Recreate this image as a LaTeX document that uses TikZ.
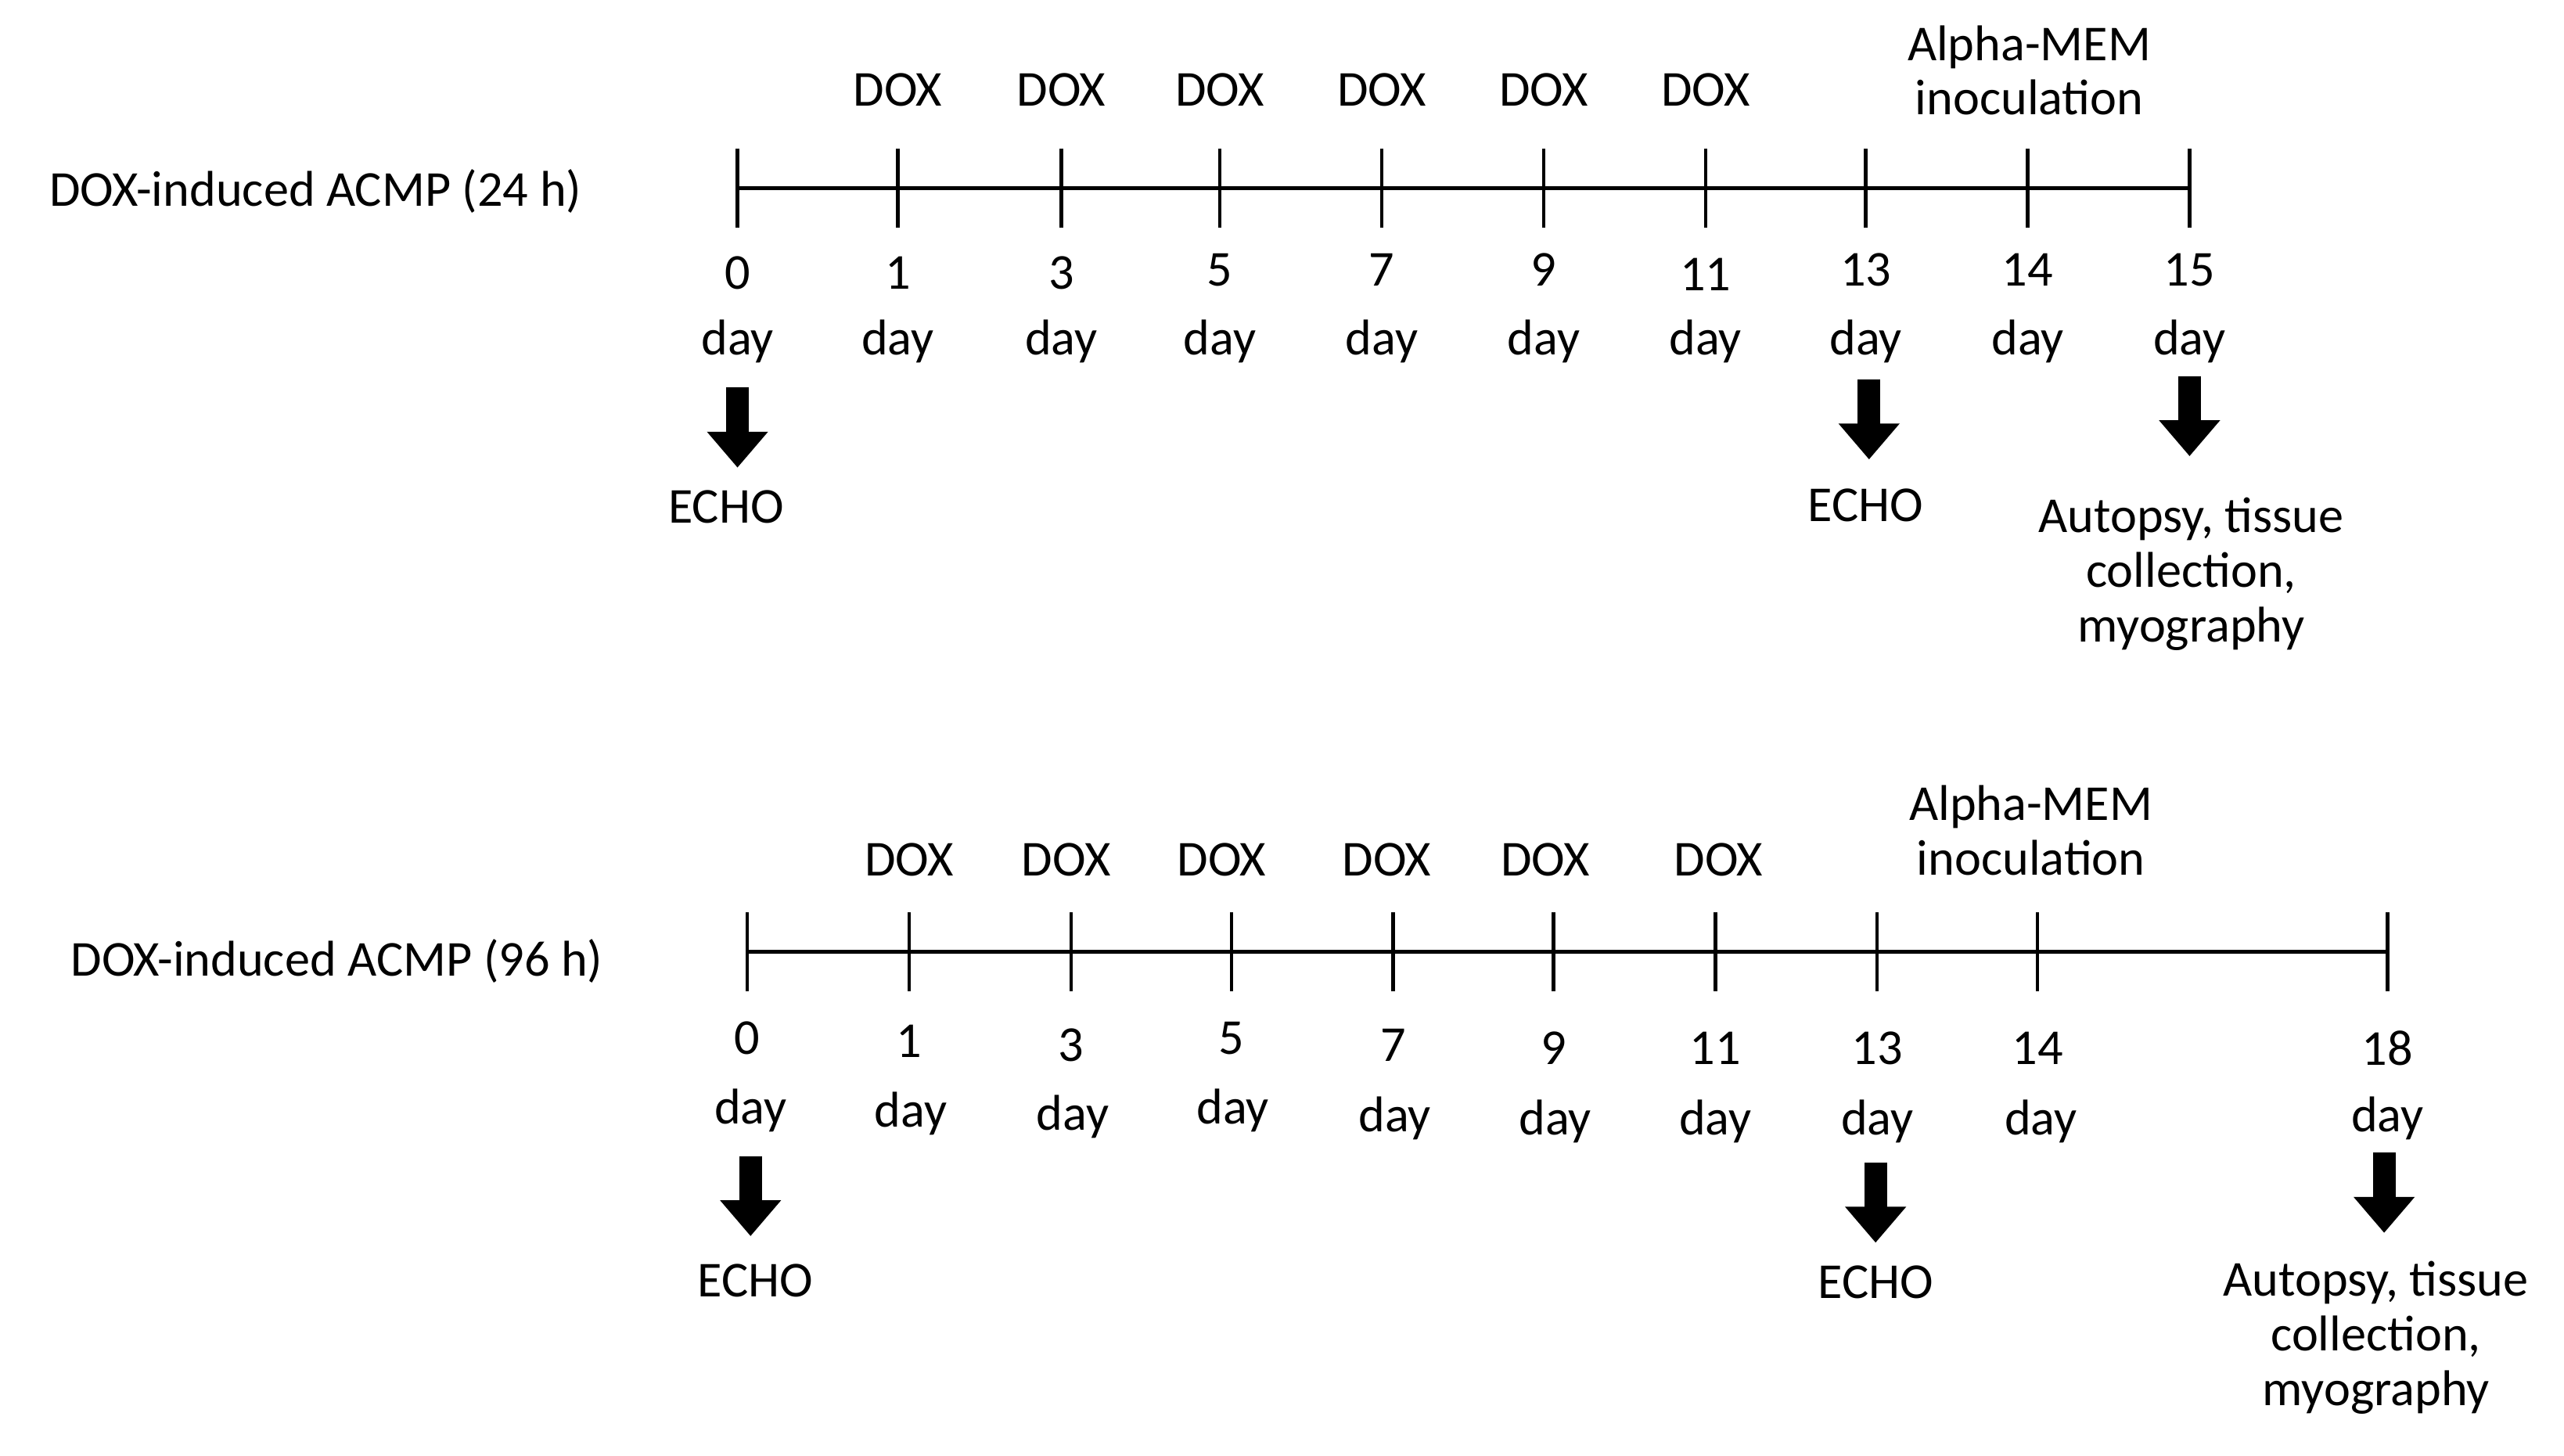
\documentclass[tikz,border=0pt]{standalone}
\usepackage{fontspec}
\setmainfont{Carlito}
\usetikzlibrary{arrows.meta}
\begin{document}
\begin{tikzpicture}[x=0.02cm,y=-0.02cm,
  lbl/.style={font=\fontsize{17.5}{21}\selectfont,inner sep=0pt,align=center},
  tl/.style={line width=1.2pt},
  big/.style={line width=0.28cm,-{Triangle[width=0.72cm,length=0.44cm]}}]
\useasboundingbox (0,0) rectangle (1568,890);
% timeline 1
\node[lbl] (L1) at (193,117) {DOX-induced ACMP (24 h)};
\coordinate (a0) at (451,115); \coordinate (aE) at (1339,115);
\draw[tl] (a0) -- (aE);
\foreach \x/\d/\n [count=\i] in {451/0/167,549/1/167,649/3/167,746/5/165,845/7/165,944/9/165,1043/11/168,1141/13/165,1240/14/165,1339/15/165}{
  \draw[tl] (\x,91) -- (\x,139);
  \node[lbl] (an\i) at (\x,\n) {\d};
  \node[lbl] (ad\i) at (\x,209) {day};
}
\foreach \x [count=\i] in {549,649,746,845,944,1043}{\node[lbl] (ax\i) at (\x,55) {DOX};}
\node[lbl] (aA) at (1241,43) {Alpha-MEM\\[-2pt]inoculation};
\coordinate (s1) at (451,237); \coordinate (e1) at (451,286);
\coordinate (s2) at (1143,232); \coordinate (e2) at (1143,281);
\coordinate (s3) at (1339,230); \coordinate (e3) at (1339,279);
\draw[big] (s1) -- (e1); \draw[big] (s2) -- (e2); \draw[big] (s3) -- (e3);
\node[lbl] (aE1) at (444,310) {ECHO};
\node[lbl] (aE2) at (1141,309) {ECHO};
\node[lbl] (aP) at (1340,351) {Autopsy, tissue\\[-2pt]collection,\\[-2pt]myography};
% timeline 2
\node[lbl] (L2) at (206,588) {DOX-induced ACMP (96 h)};
\coordinate (b0) at (457,582); \coordinate (bE) at (1460,582);
\draw[tl] (b0) -- (bE);
\foreach \x/\d/\n [count=\i] in {457/0/635,556/1/637,655/3/639,753/5/635,852/7/639,950/9/641,1049/11/641,1148/13/641,1246/14/641,1460/18/641}{
  \draw[tl] (\x,558) -- (\x,606);
  \node[lbl] (bn\i) at (\x,\n) {\d};
}
\foreach \x/\y [count=\i] in {459/679,557/681,656/683,754/679,853/684,951/686,1049/686,1148/686,1248/686,1460/684}{\node[lbl] (bd\i) at (\x,\y) {day};}
\foreach \x [count=\i] in {556,652,747,848,945,1051}{\node[lbl] (bx\i) at (\x,526) {DOX};}
\node[lbl] (bA) at (1242,508) {Alpha-MEM\\[-2pt]inoculation};
\coordinate (t1) at (459,707); \coordinate (f1) at (459,756);
\coordinate (t2) at (1147,711); \coordinate (f2) at (1147,760);
\coordinate (t3) at (1458,705); \coordinate (f3) at (1458,754);
\draw[big] (t1) -- (f1); \draw[big] (t2) -- (f2); \draw[big] (t3) -- (f3);
\node[lbl] (bE1) at (462,783) {ECHO};
\node[lbl] (bE2) at (1147,784) {ECHO};
\node[lbl] (bP) at (1453,818) {Autopsy, tissue\\[-2pt]collection,\\[-2pt]myography};
\end{tikzpicture}
\end{document}
